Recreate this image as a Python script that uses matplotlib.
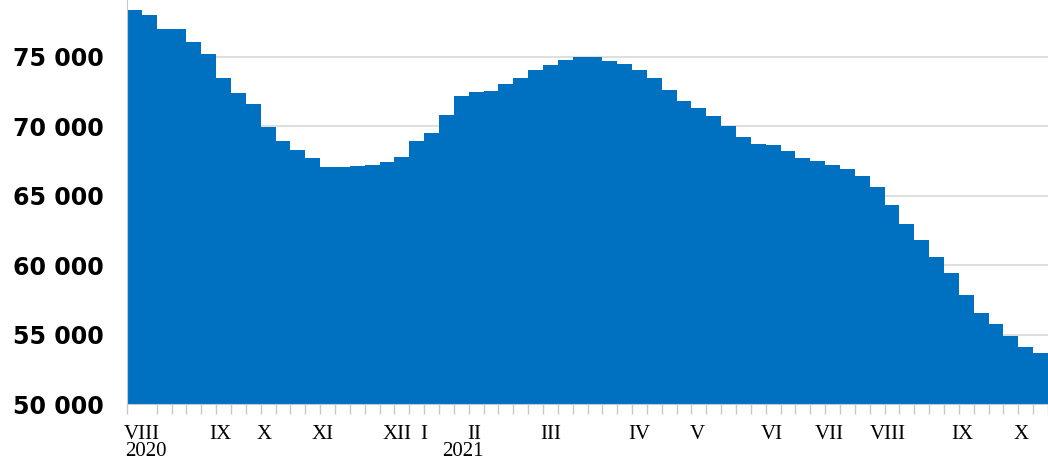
import matplotlib
matplotlib.use("Agg")
import matplotlib.pyplot as plt
import numpy as np
from matplotlib.ticker import FuncFormatter

# weekly values, Aug 2020 - Oct 2021
values = [78400, 78000, 77000, 77000, 76100, 75200, 73450, 72400, 71600, 69950,
          68950, 68300, 67700, 67100, 67050, 67150, 67200, 67400, 67800, 68950,
          69500, 70800, 72200, 72500, 72550, 73050, 73500, 74050, 74450, 74750,
          75000, 74980, 74720, 74500, 74050, 73450, 72620, 71850, 71300, 70750,
          70050, 69250, 68750, 68680, 68200, 67750, 67530, 67220, 66930, 66450,
          65600, 64300, 62970, 61820, 60600, 59420, 57850, 56530, 55750, 54900,
          54130, 53700]

# month labels and the week (from start) they sit over
month_labels = ["VIII", "IX", "X", "XI", "XII", "I", "II", "III",
                "IV", "V", "VI", "VII", "VIII", "IX", "X"]
month_weeks = [1.0, 6.3, 9.2, 13.2, 18.2, 19.95, 23.4, 28.5,
               34.5, 38.4, 43.4, 47.3, 51.2, 56.2, 60.2]
years = ["2020", "2021"]
year_weeks = [-0.15, 21.2]

yticks = [50000, 55000, 60000, 65000, 70000, 75000]

BLUE = "#0070C0"

fig = plt.figure(figsize=(10.48, 4.72), dpi=100)
ax = fig.add_axes([127 / 1048, 1 - 404 / 472, 1 - 127 / 1048, 404 / 472])

edges = np.arange(len(values) + 1)
ax.stairs(values, edges, baseline=50000, fill=True, color=BLUE, lw=0, zorder=2)

ax.set_xlim(0, 61.6)
ax.set_ylim(50000, 79100)

ax.set_yticks(yticks)
ax.yaxis.set_major_formatter(FuncFormatter(lambda v, _: f"{int(v):,}".replace(",", " ")))
ax.tick_params(axis="y", length=0, pad=17)
for lab in ax.get_yticklabels():
    lab.set_fontweight("bold")
    lab.set_fontsize(17)
    lab.set_fontfamily("DejaVu Sans")
ax.grid(axis="y", color="#d9d9d9", lw=1.2, zorder=0)

ax.set_xticks(edges, minor=True)
ax.tick_params(axis="x", which="minor", length=7, color="#c8c8c8", width=1)
ax.set_xticks(month_weeks)
ax.set_xticklabels(month_labels, fontfamily="Liberation Serif", fontsize=15)
ax.tick_params(axis="x", which="major", length=0, pad=15)

# year under the first month of each year
trans = ax.get_xaxis_transform()
for yr, wk in zip(years, year_weeks):
    ax.text(wk, -0.095, yr, transform=trans, ha="left", va="top",
            fontfamily="Liberation Serif", fontsize=15)

for s in ["top", "right"]:
    ax.spines[s].set_visible(False)
ax.spines["left"].set_color("#c8c8c8")
ax.spines["bottom"].set_color("#c8c8c8")

fig.savefig("out.png", dpi=100)
